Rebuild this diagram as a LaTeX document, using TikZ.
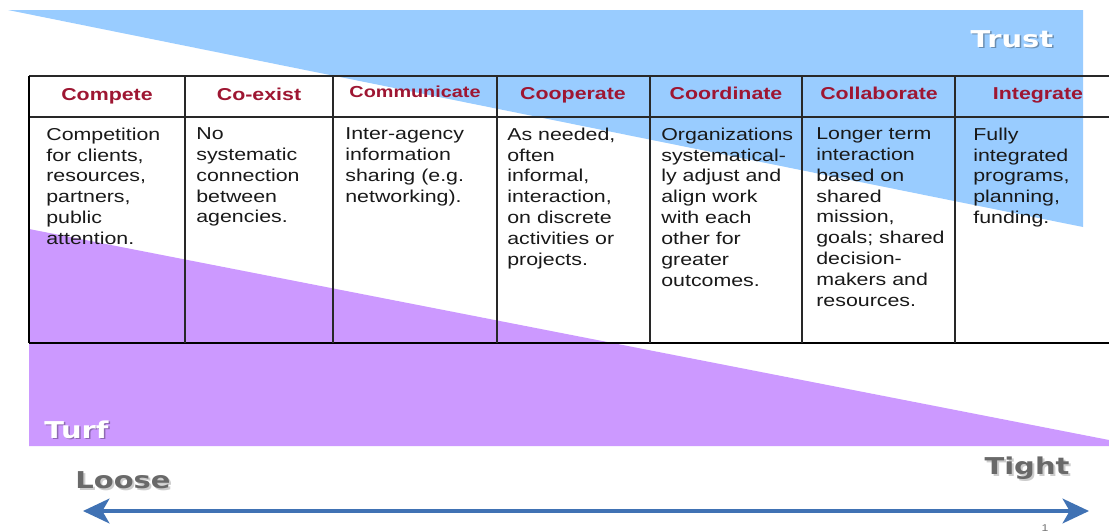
\documentclass[tikz,border=0pt]{standalone}
\usepackage{fontspec}
\setmainfont{Liberation Sans}[FakeStretch=1.24]
\newfontfamily\tagfont{DejaVu Sans}[FakeStretch=1.25]
\usetikzlibrary{arrows.meta}

\definecolor{trustblue}{RGB}{153,204,255}
\definecolor{turfpurple}{RGB}{204,153,255}
\definecolor{headred}{RGB}{158,22,50}
\definecolor{axisblue}{RGB}{64,114,180}
\definecolor{tablegray}{RGB}{40,40,40}
\definecolor{taggray}{RGB}{105,105,105}

\begin{document}
\begin{tikzpicture}[
    x=0.02cm, y=-0.02cm,
    grid/.style={draw=tablegray, line width=0.85pt},
    head/.style={font=\fontsize{9.8pt}{11pt}\selectfont\bfseries, text=headred, anchor=base, inner sep=0pt},
    body/.style={font=\fontsize{9.8pt}{11.85pt}\selectfont, text=black!90, anchor=north west, align=left, inner sep=0pt},
    tag/.style={font=\tagfont\fontsize{13.2pt}{14pt}\selectfont\bfseries, anchor=base, inner sep=0pt},
    tagshadow/.style={tag, text=black, text opacity=0.3}
]
    % Page area
    \useasboundingbox[fill=white] (0,0) rectangle (1109,531);

    % Trust wedge, widening to the right
    \fill[trustblue] (8,10) -- (1083,10) -- (1083,227) -- cycle;

    % Turf wedge, widening to the left
    \fill[turfpurple] (29,229) -- (1109,440) -- (1109,446) -- (29,446) -- cycle;

    % Table rules
    \draw[grid, line width=1.1pt] (29,76) -- (1109,76);
    \draw[grid] (29,117) -- (1109,117);
    \draw[grid, draw=black, line width=1.4pt] (29,343) -- (1109,343);
    \draw[grid, draw=black, line width=1.7pt] (29,76) -- (29,343);
    \draw[grid] (185,76) -- (185,343);
    \draw[grid] (333,76) -- (333,343);
    \draw[grid] (497,76) -- (497,343);
    \draw[grid] (650,76) -- (650,343);
    \draw[grid] (802,76) -- (802,343);
    \draw[grid] (955,76) -- (955,343);

    % Column heads
    \node[head] (compete) at (107,100) {Compete};
    \node[head] (coexist) at (259,100) {Co-exist};
    \node[head, font=\fontsize{9.1pt}{11pt}\selectfont\bfseries] (communicate) at (415,97) {Communicate};
    \node[head] (cooperate) at (573,99.5) {Cooperate};
    \node[head] (coordinate) at (726,99.5) {Coordinate};
    \node[head] (collaborate) at (879,99.5) {Collaborate};
    \node[head] (integrate) at (1038,99.5) {Integrate};

    % Cell texts
    \node[body] (competetext) at (46,127.5) {Competition\\for clients,\\resources,\\partners,\\public\\attention.};
    \node[body] (coexisttext) at (196,127.5) {No\\systematic\\connection\\between\\agencies.};
    \node[body] (communicatetext) at (345,127.5) {Inter-agency\\information\\sharing (e.g.\\networking).};
    \node[body] (cooperatetext) at (507,127.5) {As needed,\\often\\informal,\\interaction,\\on discrete\\activities or\\projects.};
    \node[body] (coordinatetext) at (661,127.5) {Organizations\\systematical-\\ly adjust and\\align work\\with each\\other for\\greater\\outcomes.};
    \node[body] (collaboratetext) at (816,127.5) {Longer term\\interaction\\based on\\shared\\mission,\\goals; shared\\decision-\\makers and\\resources.};
    \node[body] (integratetext) at (973,127.5) {Fully\\integrated\\programs,\\planning,\\funding.};

    % Wedge labels
    \node[tagshadow] (trustshadow) at (1013.5,48.5) {Trust};
    \node[tag, text=white] (trust) at (1012,47) {Trust};
    \node[tagshadow] (turfshadow) at (78,439.5) {Turf};
    \node[tag, text=white] (turf) at (76.5,438) {Turf};

    % Loose / tight scale
    \node[tagshadow, text opacity=0.2] (looseshadow) at (125,490.5) {Loose};
    \node[tag, text=taggray] (loose) at (123,488) {Loose};
    \node[tagshadow, text opacity=0.2] (tightshadow) at (1029,476.5) {Tight};
    \node[tag, text=taggray] (tight) at (1027,474) {Tight};

    \coordinate (looseend) at (83,511);
    \coordinate (tightend) at (1089,511);
    \draw[axisblue, line width=2.3pt,
          {Stealth[length=15pt,width=14pt,inset=4pt]}-{Stealth[length=15pt,width=14pt,inset=4pt]}]
        (looseend) -- (tightend);

    \node[font=\fontsize{5.6pt}{6pt}\selectfont, text=black!55, anchor=base, inner sep=0pt] (pageno) at (1045,531) {1};
\end{tikzpicture}
\end{document}
